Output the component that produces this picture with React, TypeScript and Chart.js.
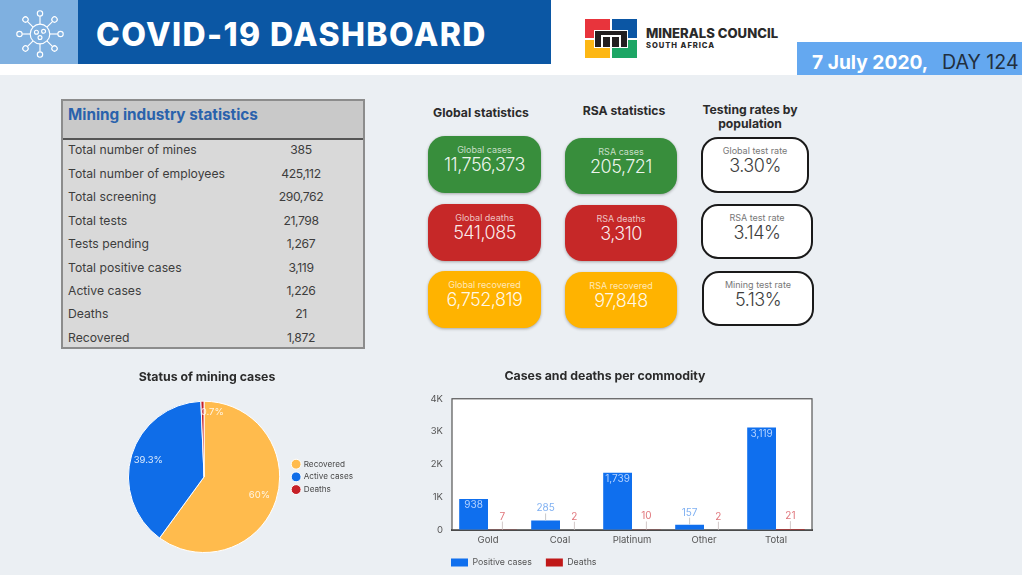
import React, { useEffect, useRef } from "react";
import { Chart, registerables } from "chart.js";

Chart.register(...registerables);

const FONT = "Inter, 'Open Sans', sans-serif";

const tableTitle = "Mining industry statistics";
const tableLabels = ["Total number of mines", "Total number of employees", "Total screening", "Total tests", "Tests pending", "Total positive cases", "Active cases", "Deaths", "Recovered"];
const tableValues = ["385", "425,112", "290,762", "21,798", "1,267", "3,119", "1,226", "21", "1,872"];

const globalLabels = ["Global cases", "Global deaths", "Global recovered"];
const globalValues = ["11,756,373", "541,085", "6,752,819"];
const rsaLabels = ["RSA cases", "RSA deaths", "RSA recovered"];
const rsaValues = ["205,721", "3,310", "97,848"];
const testLabels = ["Global test rate", "RSA test rate", "Mining test rate"];
const testValues = ["3.30%", "3.14%", "5.13%"];

const pieLabels = ["Recovered", "Active cases", "Deaths"];
const pieValues = [1872, 1226, 21];
const pieText = ["60%", "39.3%", "0.7%"];
const pieColors = ["#ffbb4d", "#0f6de8", "#c62027"];

const commodities = ["Gold", "Coal", "Platinum", "Other", "Total"];
const positiveCases = [938, 285, 1739, 157, 3119];
const deaths = [7, 2, 10, 2, 21];

const abs = (x: number, y: number, w: number, h: number): React.CSSProperties => ({ position: "absolute", left: x, top: y, width: w, height: h });

const piePlugin = {
  id: "pieText",
  afterLayout(chart: any) {
    chart.titleBlock.left -= 34.5;
    chart.titleBlock.right -= 34.5;
  },
  afterDatasetsDraw(chart: any) {
    const { ctx } = chart;
    const arcs = chart.getDatasetMeta(0).data;
    ctx.save();
    ctx.font = `9.5px ${FONT}`;
    ctx.fillStyle = "rgba(255,255,255,0.85)";
    ctx.textBaseline = "middle";
    arcs.forEach((a: any, i: number) => {
      const mid = (a.startAngle + a.endAngle) / 2;
      const small = a.endAngle - a.startAngle < 0.2;
      const r = small ? a.outerRadius * 0.86 : a.outerRadius * 0.77;
      const x = a.x + Math.cos(mid) * r;
      const y = a.y + Math.sin(mid) * r;
      ctx.textAlign = small ? "left" : "center";
      ctx.fillText(pieText[i], small ? x - 2 : x, y);
    });
    ctx.restore();
  },
};

const barPlugin = {
  id: "barText",
  afterLayout(chart: any) {
    chart.legend.left -= 15;
  },
  beforeDatasetsDraw(chart: any) {
    const { ctx, chartArea: c } = chart;
    ctx.save();
    ctx.fillStyle = "#ffffff";
    ctx.fillRect(c.left, c.top, c.right - c.left, c.bottom - c.top);
    ctx.strokeStyle = "#555555";
    ctx.lineWidth = 1.2;
    ctx.strokeRect(c.left, c.top, c.right - c.left, c.bottom - c.top);
    ctx.restore();
  },
  afterDatasetsDraw(chart: any) {
    const { ctx } = chart;
    ctx.save();
    ctx.font = `10px ${FONT}`;
    ctx.textAlign = "center";
    ctx.textBaseline = "middle";
    chart.getDatasetMeta(0).data.forEach((b: any, i: number) => {
      const v = positiveCases[i];
      const txt = v.toLocaleString("en-US");
      if (v >= 500) {
        ctx.fillStyle = "#b5d3ff";
        ctx.fillText(txt, b.x, b.y + 6);
      } else {
        ctx.strokeStyle = "#c9c9c9";
        ctx.lineWidth = 1;
        ctx.beginPath();
        ctx.moveTo(b.x, b.y);
        ctx.lineTo(b.x, b.y - 7);
        ctx.stroke();
        ctx.fillStyle = "#7fb0f2";
        ctx.fillText(txt, b.x, b.y - 12);
      }
    });
    chart.getDatasetMeta(1).data.forEach((b: any, i: number) => {
      ctx.strokeStyle = "#d3c9c9";
      ctx.lineWidth = 1;
      ctx.beginPath();
      ctx.moveTo(b.x, b.y);
      ctx.lineTo(b.x, b.y - 8);
      ctx.stroke();
      ctx.fillStyle = "#e0767c";
      ctx.fillText(String(deaths[i]), b.x, b.y - 13);
    });
    ctx.restore();
  },
};

const titleOpts = (text: string) => ({
  display: true,
  text,
  color: "#2b2b2b",
  font: { family: FONT, size: 12.3, weight: "bold" as const },
  padding: { top: 0, bottom: 0 },
});

function PieChart() {
  const ref = useRef<HTMLCanvasElement>(null);
  useEffect(() => {
    const chart = new Chart(ref.current!, {
      type: "pie",
      data: {
        labels: pieLabels,
        datasets: [{ data: pieValues, backgroundColor: pieColors, borderColor: "#ffffff", borderWidth: 1 }],
      },
      options: {
        responsive: false,
        animation: false,
        layout: { padding: { left: 62, top: 0, bottom: 31, right: 0 } },
        plugins: {
          title: { ...titleOpts("Status of mining cases"), padding: { top: 0, bottom: 16 } },
          tooltip: { enabled: false },
          legend: {
            position: "right",
            fullSize: false,
            labels: {
              usePointStyle: true,
              pointStyle: "circle",
              boxWidth: 7,
              boxHeight: 7,
              padding: 4.5,
              color: "#4a4a4a",
              font: { family: FONT, size: 8.2 },
            },
          },
        },
      },
      plugins: [piePlugin],
    } as any);
    return () => chart.destroy();
  }, []);
  return <canvas ref={ref} width={305} height={214} style={{ ...abs(58, 370, 305, 214), display: "block" }} />;
}

function BarChart() {
  const ref = useRef<HTMLCanvasElement>(null);
  useEffect(() => {
    const chart = new Chart(ref.current!, {
      type: "bar",
      data: {
        labels: commodities,
        datasets: [
          { label: "Positive cases", data: positiveCases, backgroundColor: "#0f6fee", categoryPercentage: 0.8, barPercentage: 1 },
          { label: "Deaths", data: deaths, backgroundColor: "#c01818", categoryPercentage: 0.8, barPercentage: 1 },
        ],
      },
      options: {
        responsive: false,
        animation: false,
        layout: { padding: { left: 0, top: 0, bottom: 0, right: 2 } },
        scales: {
          x: {
            afterFit(s: any) { s.height -= 7; },
            grid: { display: false, drawTicks: false },
            border: { color: "#444444", width: 2 },
            ticks: { color: "#555555", font: { family: FONT, size: 9.5 }, padding: 5 },
          },
          y: {
            min: 0,
            max: 4000,
            afterFit(s: any) { s.width = 54; },
            grid: { display: false, drawTicks: false },
            border: { display: false },
            ticks: {
              stepSize: 1000,
              color: "#555555",
              padding: 9,
              font: { family: FONT, size: 9.5 },
              callback: (v: any) => (v === 0 ? "0" : `${v / 1000}K`),
            },
          },
        },
        plugins: {
          title: { ...titleOpts("Cases and deaths per commodity"), padding: { top: 0, bottom: 15 } },
          tooltip: { enabled: false },
          legend: {
            position: "bottom",
            align: "start",
            fullSize: false,
            labels: {
              boxWidth: 17,
              boxHeight: 8,
              padding: 14,
              color: "#555555",
              font: { family: FONT, size: 8.8 },
            },
          },
        },
      },
      plugins: [barPlugin],
    } as any);
    return () => chart.destroy();
  }, []);
  return <canvas ref={ref} width={416} height={208} style={{ ...abs(398, 369, 416, 208), display: "block" }} />;
}

function VirusIcon() {
  const spokes = [0, 45, 90, 135, 180, 225, 270, 315];
  return (
    <svg style={abs(15, 9, 50, 50)} viewBox="-28 -28 56 56" fill="none" stroke="#ffffff" strokeWidth={1.3}>
      <circle r={11} />
      <circle cx={-4} cy={-2} r={2.2} />
      <circle cx={4} cy={-3} r={2.2} />
      <circle cx={0} cy={4} r={2.2} />
      {spokes.map((a) => (
        <g key={a} transform={`rotate(${a})`}>
          <line x1={0} y1={-11} x2={0} y2={-20} />
          <circle cx={0} cy={-23} r={3} />
        </g>
      ))}
    </svg>
  );
}

function Logo() {
  return (
    <>
      <div style={{ ...abs(585, 19, 25, 19), background: "#e8343c" }} />
      <div style={{ ...abs(612, 19, 25, 19), background: "#0b56a4" }} />
      <div style={{ ...abs(585, 40, 25, 18), background: "#fdb714" }} />
      <div style={{ ...abs(612, 40, 25, 18), background: "#1da665" }} />
      <div style={{ ...abs(594, 30, 34, 18), background: "#ffffff" }} />
      <div style={{ ...abs(595, 31, 32, 16), background: "#231f20" }} />
      <div style={{ ...abs(601, 36, 2, 11), background: "#fff" }} />
      <div style={{ ...abs(610, 36, 2, 11), background: "#fff" }} />
      <div style={{ ...abs(619, 36, 2, 11), background: "#fff" }} />
      <div style={{ ...abs(601, 35, 20, 2), background: "#fff" }} />
      <div style={{ position: "absolute", left: 646, top: 24, fontSize: 13.1, fontWeight: 800, color: "#2a2a2a", whiteSpace: "nowrap", lineHeight: "18px" }}>MINERALS COUNCIL</div>
      <div style={{ position: "absolute", left: 646, top: 41, fontSize: 7.6, fontWeight: 800, color: "#2a2a2a", whiteSpace: "nowrap", letterSpacing: 0.95, lineHeight: "10px" }}>SOUTH AFRICA</div>
    </>
  );
}

function Card(p: { x: number; y: number; w: number; h: number; label: string; value: string; bg?: string; border?: string }) {
  const white = !p.bg;
  return (
    <div style={{ ...abs(p.x, p.y, p.w, p.h), boxSizing: "border-box", background: p.bg || "#ffffff", border: p.border || "none", borderRadius: 17, boxShadow: white ? "none" : "0 1px 3px rgba(0,0,0,0.3)", color: white ? "#3d3d3d" : "rgba(255,255,255,0.92)", textAlign: "center" }}>
      <div style={{ position: "absolute", left: 0, right: 0, top: white ? 6 : 8, fontSize: 9, lineHeight: "12px", color: white ? "#777777" : "rgba(255,255,255,0.72)" }}>{p.label}</div>
      <div style={{ position: "absolute", left: 0, right: 0, top: white ? 15 : 17, fontSize: 18, fontWeight: 300, letterSpacing: -0.5, lineHeight: "24px" }}>{p.value}</div>
    </div>
  );
}

const heading = (text: React.ReactNode, cx: number, y: number) => (
  <div style={{ position: "absolute", left: cx - 70, width: 140, top: y, textAlign: "center", fontSize: 12.2, lineHeight: "14px", fontWeight: 700, color: "#2b2b2b" }}>{text}</div>
);

const rowCenters = [150, 173.5, 197, 220.5, 244, 267.5, 290.5, 314, 337.5];
const cardColors = ["#388e3c", "#c62828", "#ffb300"];
const globalY = [136, 204, 271];
const rsaY = [138, 205, 272];
const testBoxes = [[701, 137, 108, 56], [701, 204, 112, 55], [702, 271, 112, 55]];

export default function App() {
  return (
    <div style={{ position: "fixed", left: 0, top: 0, width: 1022, height: 575, overflow: "hidden", background: "#ebeff3", fontFamily: FONT }}>
      <div style={{ ...abs(0, 0, 1022, 75), background: "#ffffff" }} />
      <div style={{ ...abs(0, 0, 78, 64), background: "#7fb0e0" }} />
      <div style={{ ...abs(78, 0, 473, 64), background: "#0b57a4" }} />
      <VirusIcon />
      <div style={{ position: "absolute", left: 96, top: 15, fontSize: 32, fontWeight: 800, letterSpacing: 1.4, color: "#ffffff", whiteSpace: "nowrap", lineHeight: "40px" }}>COVID-19 DASHBOARD</div>
      <Logo />
      <div style={{ ...abs(797, 42, 225, 33), background: "#64a8f0" }} />
      <div style={{ position: "absolute", left: 812, top: 50, fontSize: 19.2, fontWeight: 700, color: "#ffffff", whiteSpace: "nowrap", lineHeight: "24px" }}>7 July 2020,</div>
      <div style={{ position: "absolute", left: 942, top: 50, fontSize: 19.6, color: "#222f3e", whiteSpace: "nowrap", lineHeight: "24px" }}>DAY 124</div>

      <div style={{ ...abs(61, 99, 304, 250), boxSizing: "border-box", background: "#d9d9d9", border: "2px solid #8c8c8c" }} />
      <div style={{ ...abs(63, 101, 300, 37), background: "#c9c9c9", borderBottom: "2px solid #555555" }} />
      <div style={{ position: "absolute", left: 68, top: 105, fontSize: 15.3, fontWeight: 700, color: "#2a62ac", whiteSpace: "nowrap", lineHeight: "20px" }}>{tableTitle}</div>
      {tableLabels.map((l, i) => (
        <React.Fragment key={l}>
          <div style={{ position: "absolute", left: 68, top: rowCenters[i] - 8, fontSize: 12.2, color: "#3d3d3d", whiteSpace: "nowrap", lineHeight: "16px" }}>{l}</div>
          <div style={{ position: "absolute", left: 251, width: 100, top: rowCenters[i] - 8, textAlign: "center", fontSize: 12.2, letterSpacing: -0.4, color: "#3d3d3d", lineHeight: "16px" }}>{tableValues[i]}</div>
        </React.Fragment>
      ))}

      {heading("Global statistics", 481, 106)}
      {heading("RSA statistics", 624, 104)}
      {heading(<>Testing rates by<br />population</>, 750, 103)}

      {globalLabels.map((l, i) => <Card key={l} x={428} y={globalY[i]} w={113} h={57} label={l} value={globalValues[i]} bg={cardColors[i]} />)}
      {rsaLabels.map((l, i) => <Card key={l} x={565} y={rsaY[i]} w={112} h={56} label={l} value={rsaValues[i]} bg={cardColors[i]} />)}
      {testLabels.map((l, i) => <Card key={l} x={testBoxes[i][0]} y={testBoxes[i][1]} w={testBoxes[i][2]} h={testBoxes[i][3]} label={l} value={testValues[i]} border="2px solid #1a1a1a" />)}

      <PieChart />
      <BarChart />
    </div>
  );
}
